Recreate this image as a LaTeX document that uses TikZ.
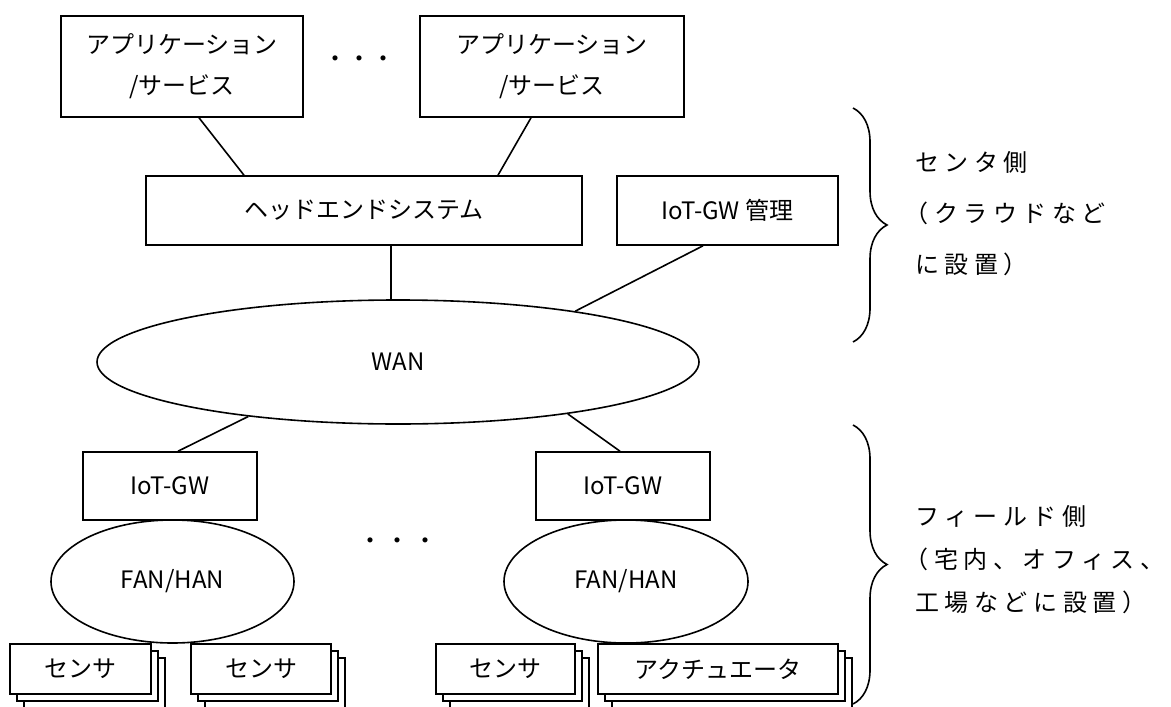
\documentclass[tikz,border=0pt]{standalone}
\usepackage{fontspec}
\setmainfont{Noto Sans CJK JP}
\newfontfamily\sidefont[LetterSpace=23]{Noto Sans CJK JP}
\usetikzlibrary{shapes.geometric,shadows,decorations.pathreplacing}

\tikzset{
	box/.style={draw, line width=0.8pt, fill=white, inner sep=0pt, align=center,
		font=\fontsize{12}{20.5}\selectfont},
	net/.style={box, ellipse},
	stack/.style={box,
		copy shadow={shadow xshift=7pt, shadow yshift=-7pt, line width=0.8pt},
		copy shadow={shadow xshift=3.5pt, shadow yshift=-3.5pt, line width=0.8pt}},
	link/.style={line width=0.8pt},
	side/.style={align=left, inner sep=0pt, anchor=west},
}

\begin{document}
\begin{tikzpicture}[x=0.5pt, y=-0.5pt]

	\useasboundingbox (0,0) rectangle (1171,706);

	\node[box, minimum width=121pt, minimum height=50.5pt] (app1) at (182,66.5) {アプリケーション\\/サービス};
	\node[box, minimum width=132pt, minimum height=50.5pt] (app2) at (552,66.5) {アプリケーション\\/サービス};
	\node[font=\fontsize{12}{12}\selectfont] (dotsTop) at (359,62) {・・・};

	\node[box, minimum width=218pt, minimum height=34.5pt] (head) at (364,210.5) {ヘッドエンドシステム};
	\node[box, minimum width=110.5pt, minimum height=34.5pt] (gwmgr) at (727.5,210.5) {IoT-GW 管理};

	\node[net, minimum width=301pt, minimum height=62pt] (wan) at (398,362) {WAN};

	\node[box, minimum width=87pt, minimum height=34pt] (gw1) at (170,486) {IoT-GW};
	\node[box, minimum width=87pt, minimum height=34pt] (gw2) at (623,486) {IoT-GW};
	\node[net, minimum width=121.5pt, minimum height=61.5pt] (fan1) at (172.5,581.5) {FAN/HAN};
	\node[net, minimum width=122pt, minimum height=61.5pt] (fan2) at (626,581.5) {FAN/HAN};
	\node[font=\fontsize{12}{12}\selectfont] (dotsMid) at (398,544) {・\hspace{2pt}・\hspace{2pt}・};

	\node[stack, minimum width=70.5pt, minimum height=25pt] (sens1) at (80.5,669) {センサ};
	\node[stack, minimum width=70pt, minimum height=25pt] (sens2) at (261,669) {センサ};
	\node[stack, minimum width=69.5pt, minimum height=25pt] (sens3) at (505.5,669) {センサ};
	\node[stack, minimum width=120pt, minimum height=25pt] (act) at (718,669) {アクチュエータ};

	\draw[link] ([xshift=8.5pt]app1.south) -- ([xshift=-60pt]head.north);
	\draw[link] ([xshift=-10.5pt]app2.south) -- ([xshift=67pt]head.north);
	\draw[link] ([xshift=13.5pt]head.south) -- ([xshift=13.5pt]head.south |- wan.north);
	\draw[link] ([xshift=-12.25pt]gwmgr.south) -- (wan.16);
	\draw[link] (wan.200) -- ([xshift=4pt]gw1.north);
	\draw[link] (wan.-17) -- ([xshift=-1.5pt]gw2.north);

	\draw[link, decorate, decoration={brace, amplitude=17pt}] (853,108) -- (853,342);
	\draw[link, decorate, decoration={brace, amplitude=17pt}] (853,425) -- (853,704);

	\node[side, font=\sidefont\fontsize{12}{25.5}\selectfont] (center) at (915,214)
		{センタ側\\\hspace*{-0.45em}（クラウドなど\\に設置）};
	\node[side, font=\sidefont\fontsize{12}{21.5}\selectfont] (field) at (915,560)
		{フィールド側\\\hspace*{-0.45em}（宅内、オフィス、\\工場などに設置）};

\end{tikzpicture}
\end{document}
